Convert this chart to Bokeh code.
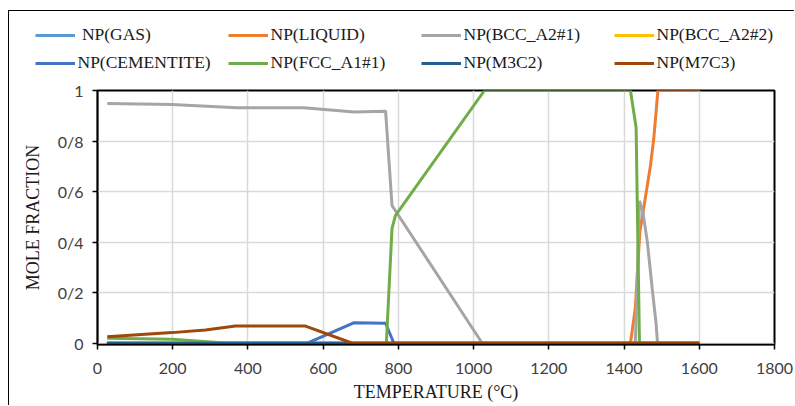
from bokeh.plotting import figure
from bokeh.models import Legend, LegendItem, FixedTicker, Range1d
from bokeh.embed import file_html
from bokeh.resources import INLINE

# ---- data (temperature in °C, mole fraction) ----
gas_t = [25, 1600]
gas_v = [0, 0]

liquid_t = [25, 1417, 1430, 1442, 1470, 1479, 1490, 1600]
liquid_v = [0, 0, 0.14, 0.44, 0.70, 0.81, 1.0, 1.0]

bcc1_t = [26, 198, 371, 548, 682, 766, 783, 1023, 1430, 1441, 1450, 1462, 1476, 1485, 1489, 1600]
bcc1_v = [0.949, 0.945, 0.932, 0.932, 0.915, 0.918, 0.545, 0, 0, 0.563, 0.52, 0.40, 0.20, 0.08, 0, 0]

bcc2_t = [25, 1600]
bcc2_v = [0, 0]

cem_t = [25, 558, 681, 766, 788, 1600]
cem_v = [0, 0, 0.081, 0.079, 0, 0]

fcc_t = [26, 198, 349, 768, 783, 792, 1029, 1417, 1432, 1441, 1600]
fcc_v = [0.02, 0.016, 0, 0, 0.453, 0.505, 1.0, 1.0, 0.854, 0, 0]

m3c2_t = [25, 1600]
m3c2_v = [0, 0]

m7c3_t = [26, 198, 287, 367, 553, 678, 1600]
m7c3_v = [0.026, 0.042, 0.052, 0.068, 0.068, 0, 0]

series_names = [" NP(GAS)", "NP(LIQUID)", "NP(BCC_A2#1)", "NP(BCC_A2#2)",
                "NP(CEMENTITE)", "NP(FCC_A1#1)", "NP(M3C2)", "NP(M7C3)"]
series_t = [gas_t, liquid_t, bcc1_t, bcc2_t, cem_t, fcc_t, m3c2_t, m7c3_t]
series_v = [gas_v, liquid_v, bcc1_v, bcc2_v, cem_v, fcc_v, m3c2_v, m7c3_v]
colors = ["#5B9BD5", "#ED7D31", "#A5A5A5", "#FFC000",
          "#4472C4", "#70AD47", "#255E91", "#9E480E"]

x_ticks = [0, 200, 400, 600, 800, 1000, 1200, 1400, 1600, 1800]
y_ticks = [0, 0.2, 0.4, 0.6, 0.8, 1.0]
y_tick_labels = ["0", "0/2", "0/4", "0/6", "0/8", "1"]

# ---- legend strip (separate root so it is not frame-aligned with the plot) ----
lg = figure(width=786, height=68, output_backend="svg", toolbar_location=None,
            x_axis_location=None, y_axis_location=None,
            x_range=Range1d(0, 1), y_range=Range1d(0, 1),
            min_border_left=0, min_border_right=0, min_border_top=0, min_border_bottom=0,
            outline_line_color=None, margin=(10, 0, 0, 8))
lg.styles = {"border-left": "1.5px solid black", "border-top": "1.5px solid black"}
lg.grid.visible = False
lg_renderers = [lg.line([5, 6], [5, 6], line_color=c, line_width=3) for c in colors]
items = [LegendItem(label=n, renderers=[r]) for n, r in zip(series_names, lg_renderers)]
legend = Legend(items=items, location=(25.5, 2.5), orientation="horizontal", ncols=4,
                glyph_width=40, glyph_height=28, label_standoff=3, label_width=150,
                spacing=0, padding=0, margin=0, border_line_color=None,
                background_fill_alpha=0,
                label_text_font="Liberation Serif", label_text_font_size="17.5px",
                label_text_color="#1a1a1a")
lg.add_layout(legend, "center")

# ---- main plot ----
p = figure(width=786, height=327, output_backend="svg", toolbar_location=None,
           x_range=Range1d(0, 1800), y_range=Range1d(-0.005, 1),
           min_border_left=88, min_border_right=21, min_border_top=12, min_border_bottom=61,
           margin=(0, 0, 0, 8))
p.styles = {"border-left": "1.5px solid black"}

p.outline_line_color = "black"
p.outline_line_width = 2

for t, v, c in zip(series_t, series_v, colors):
    p.line(t, v, line_color=c, line_width=3)

for ax in (p.xaxis[0], p.yaxis[0]):
    ax.axis_line_color = "black"
    ax.axis_line_width = 1.5
    ax.major_tick_line_color = "black"
    ax.major_tick_line_width = 1.5
    ax.major_tick_out = 5
    ax.major_tick_in = 0
    ax.minor_tick_line_color = None
    ax.major_label_text_font = "Lato"
    ax.major_label_text_font_size = "16px"
    ax.major_label_text_color = "#404040"
    ax.axis_label_text_font = "Liberation Serif"
    ax.axis_label_text_font_size = "18px"
    ax.axis_label_text_font_style = "normal"
    ax.axis_label_text_color = "#1a1a1a"

p.xaxis.ticker = FixedTicker(ticks=x_ticks)
p.yaxis.ticker = FixedTicker(ticks=y_ticks)
p.yaxis.major_label_overrides = {t: l for t, l in zip(y_ticks, y_tick_labels)}
p.xaxis.axis_label = "TEMPERATURE (°C)"
p.yaxis.axis_label = "MOLE FRACTION"
p.xaxis.major_label_standoff = 13
p.yaxis.major_label_standoff = 9
p.xaxis.axis_label_standoff = 5
p.yaxis.axis_label_standoff = 12

p.xgrid.ticker = FixedTicker(ticks=x_ticks)
p.ygrid.ticker = FixedTicker(ticks=y_ticks)
p.grid.grid_line_color = "#d9d9d9"
p.grid.grid_line_width = 1.5

open("out.html", "w").write(file_html([lg, p], INLINE))
